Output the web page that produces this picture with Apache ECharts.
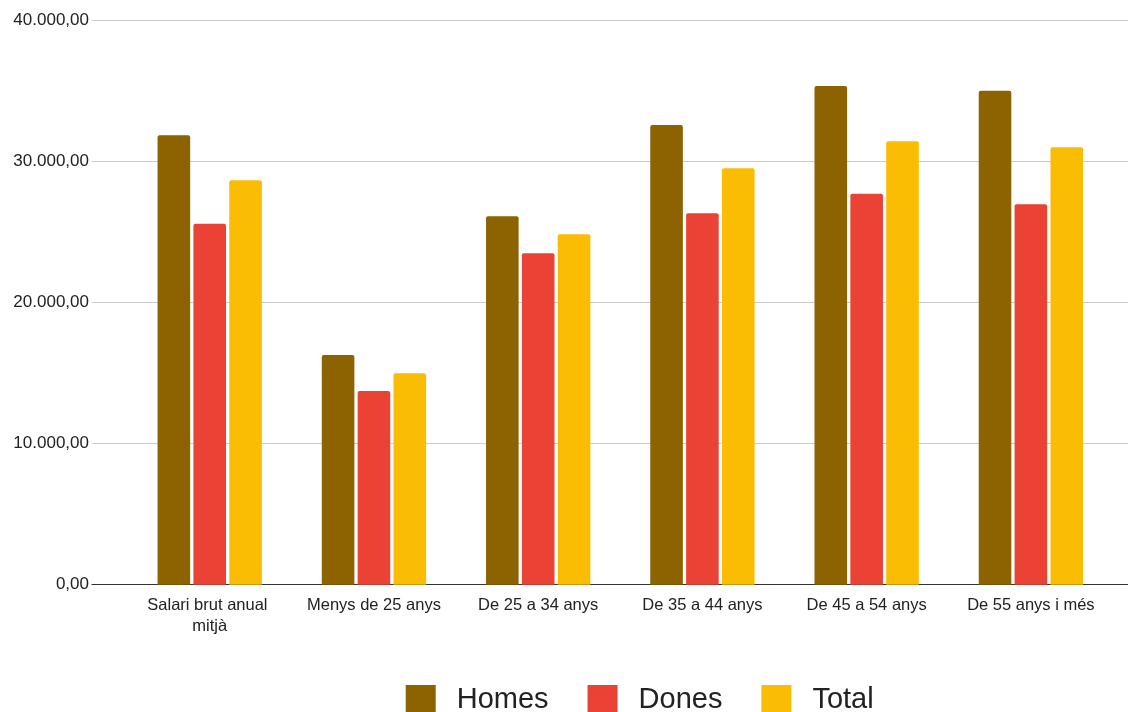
<!DOCTYPE html>
<html>
<head>
<meta charset="utf-8">
<script src="https://cdn.jsdelivr.net/npm/echarts@6/dist/echarts.min.js"></script>
<style>
html,body{margin:0;padding:0;background:#fff;}
#chart{width:1128px;height:712px;}
</style>
</head>
<body>
<div id="chart"></div>
<script>
const categories = ["Salari brut anual mitjà", "Menys de 25 anys", "De 25 a 34 anys", "De 35 a 44 anys", "De 45 a 54 anys", "De 55 anys i més"];
const homes = [31870, 16290, 26130, 32600, 35370, 35040];
const dones = [25600, 13740, 23500, 26340, 27730, 26980];
const total = [28680, 14990, 24850, 29530, 31450, 31020];
const yTicks = [0, 10000, 20000, 30000, 40000];

function fmt(v) {
  const s = Math.round(v).toString().replace(/\B(?=(\d{3})+(?!\d))/g, ".");
  return s + ",00";
}

const FONT = "'Liberation Sans', Arial, sans-serif";
const chart = echarts.init(document.getElementById('chart'), null, {renderer: 'canvas'});
const yMin = yTicks[0], yMax = yTicks[yTicks.length - 1], yInt = yTicks[1] - yTicks[0];

chart.setOption({
  animation: false,
  backgroundColor: '#ffffff',
  grid: [
    {left: 92, right: 0, top: 20.7, bottom: 127.3},
    {left: 127.6, right: 15, top: 20.7, bottom: 127.3}
  ],
  legend: {
    data: ['Homes', 'Dones', 'Total'],
    left: 405.7,
    top: 685,
    padding: 0,
    itemWidth: 30,
    itemHeight: 30,
    itemGap: 39,
    icon: 'rect',
    textStyle: {fontFamily: FONT, fontSize: 29, color: '#222', padding: [0, 0, 0, 16]}
  },
  xAxis: [
    {
      gridIndex: 0, type: 'value', min: 0, max: 1,
      axisLine: {show: true, lineStyle: {color: '#333', width: 1}},
      axisTick: {show: false}, axisLabel: {show: false}, splitLine: {show: false}
    },
    {
      gridIndex: 1, type: 'category', data: categories,
      axisLine: {show: false}, axisTick: {show: false},
      axisLabel: {
        interval: 0, margin: 10, fontFamily: FONT, fontSize: 16.5, color: '#222',
        width: 158, overflow: 'break', lineHeight: 21
      }
    }
  ],
  yAxis: [
    {
      gridIndex: 0, type: 'value', min: yMin, max: yMax, interval: yInt,
      axisLine: {show: false}, axisTick: {show: false},
      axisLabel: {margin: 3, fontFamily: FONT, fontSize: 17, color: '#222', formatter: fmt, padding: [3, 0, 0, 0]},
      splitLine: {show: true, lineStyle: {color: '#cccccc', width: 1}}
    },
    {
      gridIndex: 1, type: 'value', min: yMin, max: yMax, interval: yInt, show: false,
      splitLine: {show: false}
    }
  ],
  series: [
    {name: 'Homes', type: 'bar', xAxisIndex: 1, yAxisIndex: 1, data: homes, barWidth: 32.6, barGap: '10%',
     itemStyle: {color: '#8d6200', borderRadius: [2, 2, 0, 0]}},
    {name: 'Dones', type: 'bar', xAxisIndex: 1, yAxisIndex: 1, data: dones, barWidth: 32.6, barGap: '10%',
     itemStyle: {color: '#ea4335', borderRadius: [2, 2, 0, 0]}},
    {name: 'Total', type: 'bar', xAxisIndex: 1, yAxisIndex: 1, data: total, barWidth: 32.6, barGap: '10%',
     itemStyle: {color: '#fbbc04', borderRadius: [2, 2, 0, 0]}}
  ]
});
</script>
</body>
</html>
